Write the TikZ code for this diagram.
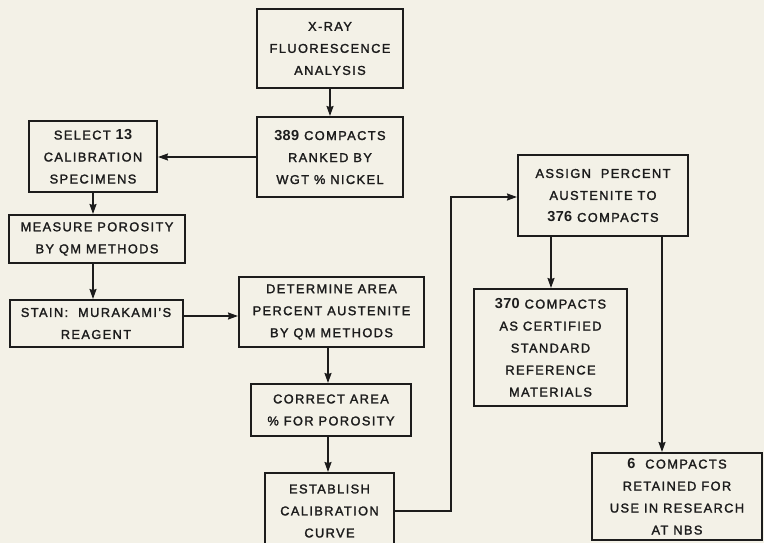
\documentclass[tikz,border=0pt]{standalone}
\usepackage{fontspec}
\setmainfont{Liberation Sans}[LetterSpace=11, FakeBold=1.8]
\newfontfamily\numfont{Liberation Sans Bold}[LetterSpace=2]
\usetikzlibrary{arrows.meta}
\definecolor{paper}{HTML}{F3F1E7}
\definecolor{ink}{HTML}{1C1C1C}
\newcommand{\nb}[1]{{\numfont\fontsize{14.5}{22}\selectfont #1}}
\tikzset{
  box/.style={draw=ink, line width=2pt, fill=paper, align=center, text=ink,
    inner sep=0pt, font=\fontsize{12.8}{22}\selectfont},
  arr/.style={draw=ink, line width=1.6pt, -{Stealth[length=10pt,width=7pt,inset=1pt]}},
}
\begin{document}
\begin{tikzpicture}[x=1pt,y=-1pt]
\fill[paper] (0,0) rectangle (764,543);
\useasboundingbox (0,0) rectangle (764,543);
\clip (0,0) rectangle (764,543);

\node[box, minimum width=146pt, minimum height=79pt] (xray) at (330,48.5) {X-RAY\\FLUORESCENCE\\ANALYSIS};
\node[box, minimum width=146pt, minimum height=80pt] (c389) at (330,157) {\nb{389} COMPACTS\\RANKED BY\\WGT \% NICKEL};
\node[box, minimum width=128pt, minimum height=71pt] (select) at (93,156.5) {SELECT \nb{13}\\CALIBRATION\\SPECIMENS};
\node[box, minimum width=176pt, minimum height=48pt] (measure) at (97,239) {MEASURE POROSITY\\BY QM METHODS};
\node[box, minimum width=173pt, minimum height=47pt] (stain) at (96,323.5) {STAIN:\ \ MURAKAMI'S\\REAGENT};
\node[box, minimum width=185pt, minimum height=70pt] (determine) at (331.5,312) {DETERMINE AREA\\PERCENT AUSTENITE\\BY QM METHODS};
\node[box, minimum width=160pt, minimum height=52pt] (correct) at (331,410) {CORRECT AREA\\\% FOR POROSITY};
\node[box, minimum width=129pt, minimum height=76pt] (establish) at (329.5,511) {ESTABLISH\\CALIBRATION\\CURVE};
\node[box, minimum width=170pt, minimum height=81pt] (assign) at (603,195.5) {ASSIGN\ \ PERCENT\\AUSTENITE TO\\\nb{376}\ COMPACTS};
\node[box, minimum width=153pt, minimum height=117pt] (c370) at (550.5,347.5) {\nb{370} COMPACTS\\AS CERTIFIED\\STANDARD\\REFERENCE\\MATERIALS};
\node[box, minimum width=170pt, minimum height=87pt] (c6) at (677,496.5) {\nb{6}\ \ COMPACTS\\RETAINED FOR\\USE IN RESEARCH\\AT NBS};

\coordinate (xa) at (93,0);
\coordinate (ya) at (0,316);
\coordinate (xb) at (328,0);
\coordinate (yc) at (0,511);
\coordinate (xc) at (451,0);
\coordinate (yd) at (0,197);
\coordinate (xd) at (551,0);
\coordinate (xe) at (662,0);

\draw[arr] (xray.south) -- (c389.north);
\draw[arr] (c389.west) -- (c389.west -| select.east);
\draw[arr] (select.south -| xa) -- (measure.north -| xa);
\draw[arr] (measure.south -| xa) -- (stain.north -| xa);
\draw[arr] (stain.east |- ya) -- (determine.west |- ya);
\draw[arr] (determine.south -| xb) -- (correct.north -| xb);
\draw[arr] (correct.south -| xb) -- (establish.north -| xb);
\draw[arr] (establish.east |- yc) -- (xc |- yc) -- (xc |- yd) -- (assign.west |- yd);
\draw[arr] (assign.south -| xd) -- (c370.north -| xd);
\draw[arr] (assign.south -| xe) -- (c6.north -| xe);
\end{tikzpicture}
\end{document}
